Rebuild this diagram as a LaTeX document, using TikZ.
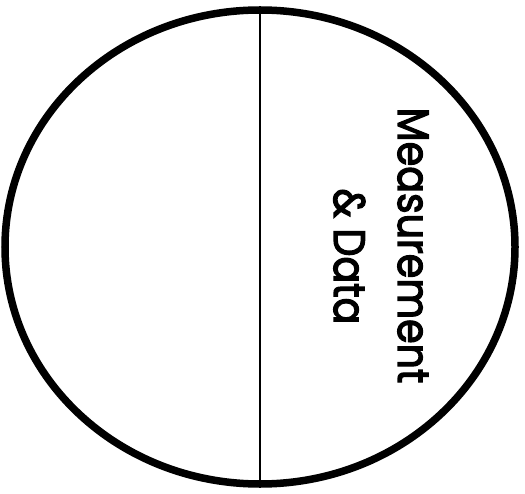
\documentclass[tikz,border=0pt]{standalone}
\usepackage{fontspec}
\setmainfont{Poppins}
\newfontfamily\lblfont[FakeBold=3]{Poppins}
\usetikzlibrary{shapes.geometric}
\begin{document}
\begin{tikzpicture}[x=1pt,y=1pt,
  rim/.style={ellipse, draw, line width=7.5pt, minimum width=510pt, minimum height=474pt, inner sep=0pt},
  divider/.style={line width=1.8pt},
  lbl/.style={rotate=-90, anchor=base, inner sep=0pt, font=\lblfont\fontsize{44}{44}\selectfont}]
\useasboundingbox (0,0) rectangle (525,493);
\node[rim] (c) at (260,246) {};
\draw[divider] (c.north) -- (c.south);
\node[lbl] (t1) at (398,247.5) {\scalebox{0.9}[1]{Measurement}};
\node[lbl] (t2) at (334,236.5) {\scalebox{0.9}[1]{\& Data}};
\end{tikzpicture}
\end{document}
